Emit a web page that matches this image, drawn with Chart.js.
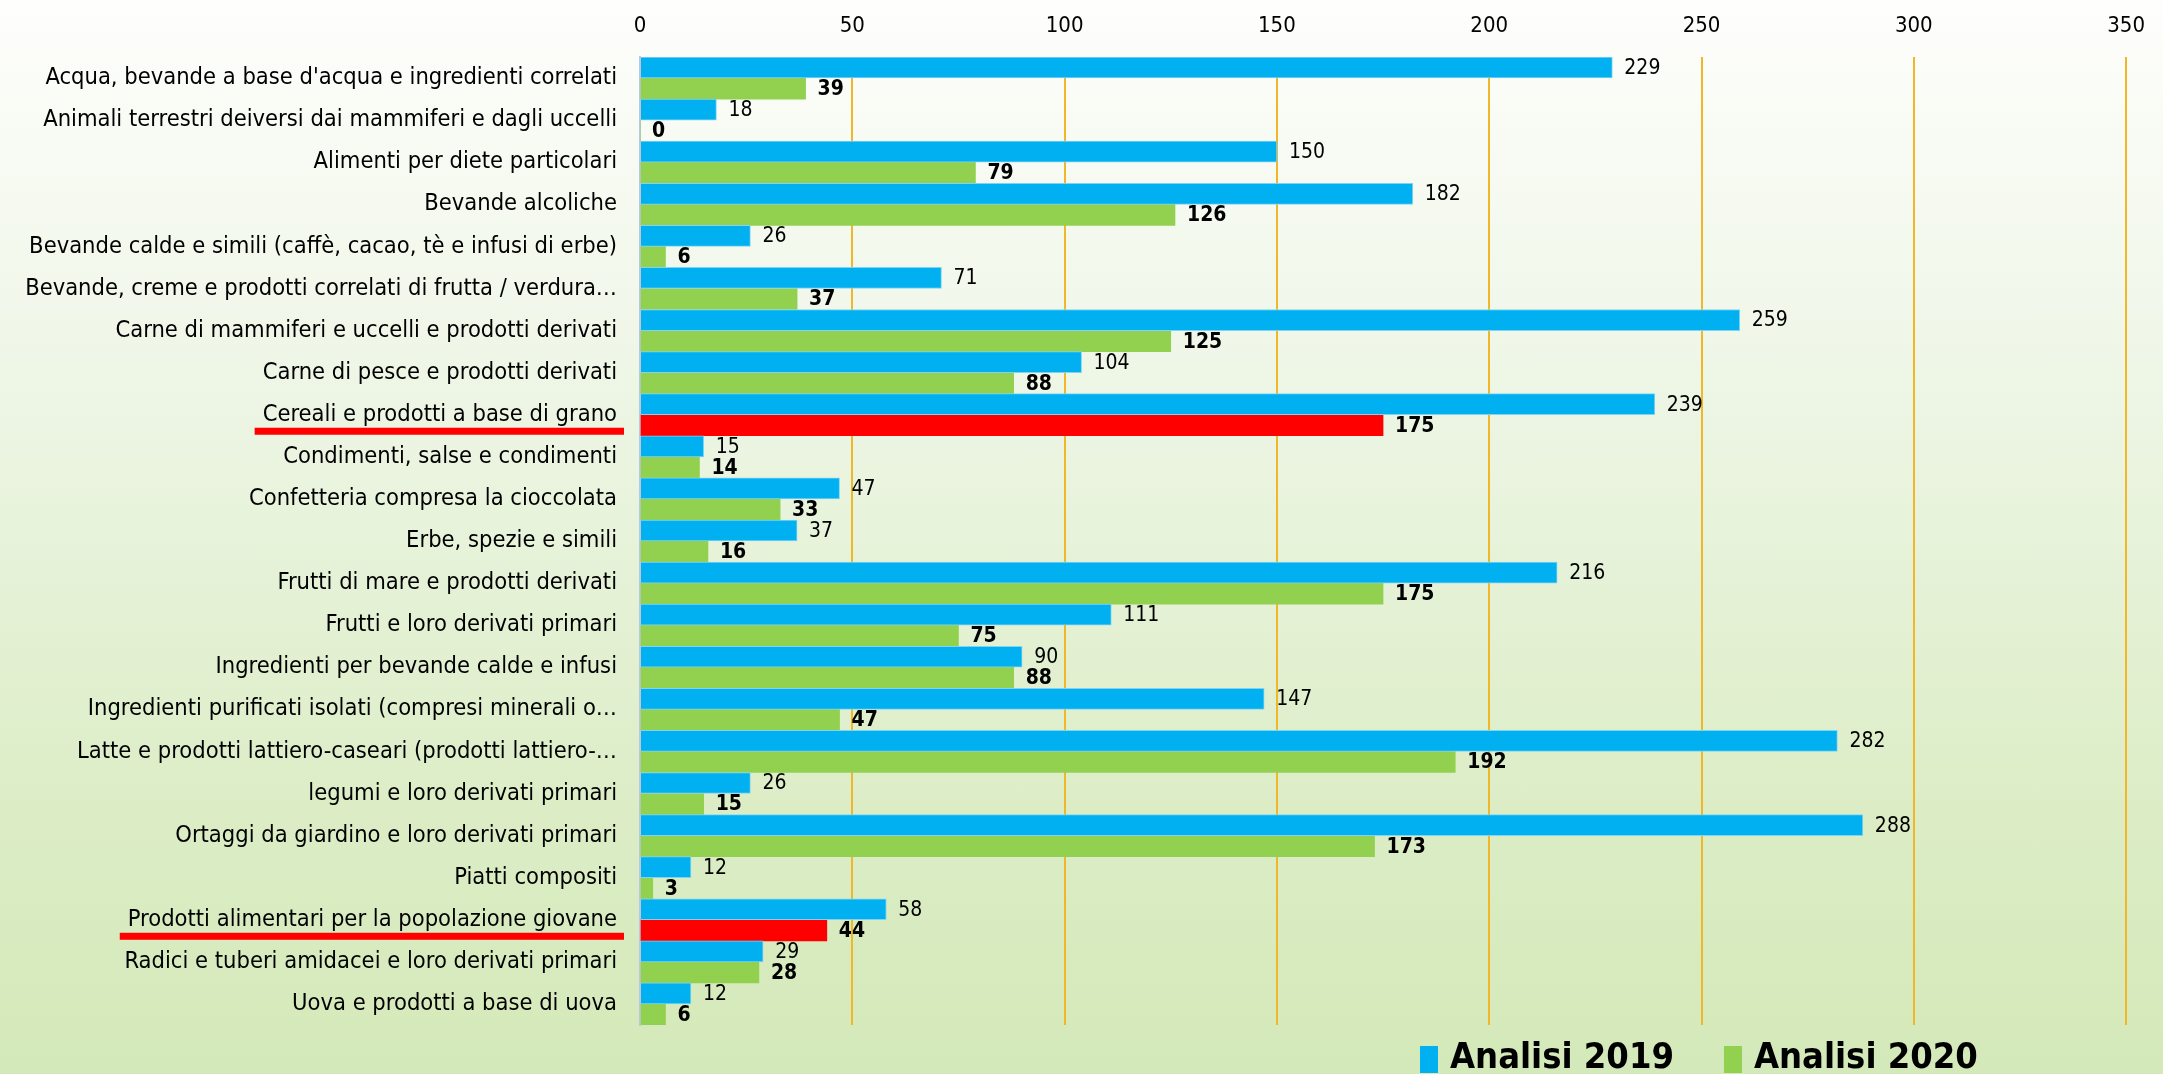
<!DOCTYPE html>
<html>
<head>
<meta charset="utf-8">
<script src="https://cdn.jsdelivr.net/npm/chart.js@4/dist/chart.umd.min.js"></script>
<style>
  html, body { margin: 0; padding: 0; }
  body {
    width: 2163px; height: 1074px; overflow: hidden;
    background: linear-gradient(to bottom, #fefefc 0%, #eef6e6 35%, #dcedc6 75%, #d4e9b9 100%);
  }
  #wrap { position: relative; width: 2163px; height: 1074px; }
</style>
</head>
<body>
<div id="wrap"><canvas id="chart" width="2163" height="1074"></canvas></div>
<script>
const FONT = "'DejaVu Sans Condensed', 'Liberation Sans Narrow', sans-serif";

const categorie = [
  "Acqua, bevande a base d'acqua e ingredienti correlati",
  "Animali terrestri deiversi dai mammiferi e dagli uccelli",
  "Alimenti per diete particolari",
  "Bevande alcoliche",
  "Bevande calde e simili (caffè, cacao, tè e infusi di erbe)",
  "Bevande, creme e prodotti correlati di frutta / verdura…",
  "Carne di mammiferi e uccelli e prodotti derivati",
  "Carne di pesce e prodotti derivati",
  "Cereali e prodotti a base di grano",
  "Condimenti, salse e condimenti",
  "Confetteria compresa la cioccolata",
  "Erbe, spezie e simili",
  "Frutti di mare e prodotti derivati",
  "Frutti e loro derivati primari",
  "Ingredienti per bevande calde e infusi",
  "Ingredienti purificati isolati (compresi minerali o…",
  "Latte e prodotti lattiero-caseari (prodotti lattiero-…",
  "legumi e loro derivati primari",
  "Ortaggi da giardino e loro derivati primari",
  "Piatti compositi",
  "Prodotti alimentari per la popolazione giovane",
  "Radici e tuberi amidacei e loro derivati primari",
  "Uova e prodotti a base di uova"
];

const analisi2019 = [229, 18, 150, 182, 26, 71, 259, 104, 239, 15, 47, 37, 216, 111, 90, 147, 282, 26, 288, 12, 58, 29, 12];
const analisi2020 = [39, 0, 79, 126, 6, 37, 125, 88, 175, 14, 33, 16, 175, 75, 88, 47, 192, 15, 173, 3, 44, 28, 6];

// categorie evidenziate in rosso
const evidenziate = [8, 20];

const BLU = "#00b0f0";
const VERDE = "#92d050";
const ROSSO = "#ff0000";

const colori2020 = analisi2020.map((v, i) => evidenziate.includes(i) ? ROSSO : VERDE);

// etichette dei valori a destra delle barre
const etichetteValori = {
  id: "etichetteValori",
  afterDatasetsDraw(chart) {
    const ctx = chart.ctx;
    ctx.save();
    ctx.textBaseline = "middle";
    ctx.textAlign = "left";
    ctx.fillStyle = "#000";
    chart.data.datasets.forEach((ds, di) => {
      const meta = chart.getDatasetMeta(di);
      ctx.font = (di === 1 ? "bold " : "") + "21px " + FONT;
      meta.data.forEach((bar, i) => {
        ctx.fillText(String(ds.data[i]), bar.x + 12, bar.y + 1);
      });
    });
    ctx.restore();
  }
};

// sottolineatura rossa sotto le etichette evidenziate
const sottolineature = {
  id: "sottolineature",
  afterDraw(chart) {
    const ctx = chart.ctx;
    const y = chart.scales.y;
    ctx.save();
    ctx.font = "23.5px " + FONT;
    ctx.fillStyle = ROSSO;
    evidenziate.forEach((i) => {
      const w = ctx.measureText(categorie[i]).width;
      const right = y.right - 23;
      const cy = y.getPixelForValue(i);
      ctx.fillRect(right - w - 8, cy + 13, w + 15, 7);
    });
    ctx.restore();
  }
};

// legenda in basso a destra
const legenda = {
  id: "legenda",
  afterDraw(chart) {
    const ctx = chart.ctx;
    ctx.save();
    ctx.font = "bold 36px " + FONT;
    ctx.textBaseline = "middle";
    ctx.textAlign = "left";
    let x = 1420;
    const cy = 1059;
    chart.data.datasets.forEach((ds) => {
      ctx.fillStyle = ds.legendColor;
      ctx.fillRect(x, cy - 13, 18, 27);
      ctx.fillStyle = "#000";
      ctx.fillText(ds.label, x + 30, cy);
      x += 30 + ctx.measureText(ds.label).width + 50;
    });
    ctx.restore();
  }
};

new Chart(document.getElementById("chart"), {
  type: "bar",
  data: {
    labels: categorie,
    datasets: [
      {
        label: "Analisi 2019",
        data: analisi2019,
        backgroundColor: BLU,
        legendColor: BLU,
        borderColor: "#7fd4f2",
        borderWidth: 1,
        categoryPercentage: 1.0,
        barPercentage: 1.0
      },
      {
        label: "Analisi 2020",
        data: analisi2020,
        backgroundColor: colori2020,
        legendColor: VERDE,
        borderWidth: 0,
        categoryPercentage: 1.0,
        barPercentage: 1.0
      }
    ]
  },
  options: {
    indexAxis: "y",
    responsive: false,
    animation: false,
    layout: { padding: { left: 0, right: 22, top: 0, bottom: 49 } },
    plugins: {
      legend: { display: false },
      tooltip: { enabled: false }
    },
    scales: {
      x: {
        position: "top",
        min: 0,
        max: 350,
        ticks: {
          stepSize: 50,
          color: "#000",
          font: { family: FONT, size: 22 },
          padding: 18
        },
        grid: {
          drawTicks: false,
          color: (c) => c.tick && c.tick.value === 0 ? "rgba(0,0,0,0)" : "#f0b828",
          lineWidth: 2
        },
        border: { display: false },
        afterFit: (s) => { s.height = 57; }
      },
      y: {
        ticks: {
          color: "#000",
          font: { family: FONT, size: 23.5 },
          padding: 23,
          autoSkip: false
        },
        grid: { display: false, drawTicks: false },
        border: { display: true, color: "#b9c9dd", width: 2 },
        afterFit: (s) => { s.width = 640; }
      }
    }
  },
  plugins: [etichetteValori, sottolineature, legenda]
});
</script>
</body>
</html>
